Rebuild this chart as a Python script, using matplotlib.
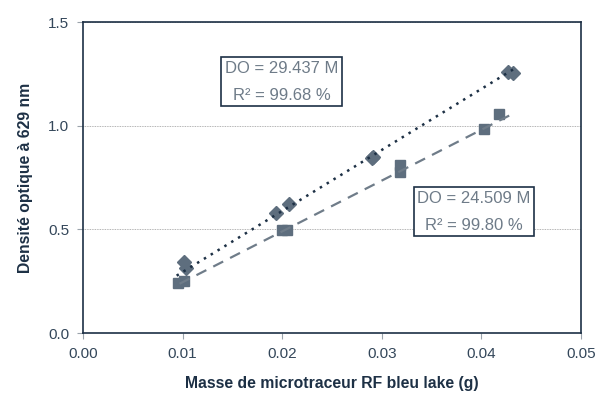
"""Calibration: optical density at 629 nm vs mass of RF bleu lake microtracer."""
import matplotlib

matplotlib.use("Agg")
import matplotlib.pyplot as plt
import numpy as np

plt.rcParams["font.family"] = ["Liberation Sans", "DejaVu Sans"]

# series 1 (diamonds, dotted trend)
mass_a = [0.01017, 0.01030, 0.01934, 0.02070, 0.02900, 0.02910, 0.04270, 0.04320]
do_a = [0.344, 0.312, 0.577, 0.622, 0.845, 0.850, 1.260, 1.254]
slope_a = 29.437
r2_a = 99.68

# series 2 (squares, dashed trend)
mass_b = [0.00957, 0.01014, 0.02000, 0.02045, 0.03183, 0.03183, 0.04030, 0.04177]
do_b = [0.243, 0.251, 0.495, 0.497, 0.810, 0.775, 0.983, 1.055]
slope_b = 24.509
r2_b = 99.80

trend_a_x = [0.0094, 0.0433]
trend_b_x = [0.0097, 0.0434]

MARKER = "#5e6e7e"
DARK = "#1d3045"
DASH = "#6f7c89"
TEXT = "#6e7b88"
TICK = "#34475a"

fig = plt.figure(figsize=(5.98, 3.96), dpi=100)
ax = fig.add_axes([0.1388, 0.159, 0.8328, 0.7854])

ax.plot(mass_a, do_a, "D", color=MARKER, markersize=6.8, zorder=3)
ax.plot(mass_b, do_b, "s", color=MARKER, markersize=6.8, zorder=3)

xa = np.array(trend_a_x)
xb = np.array(trend_b_x)
ax.plot(xa, slope_a * xa, linestyle=(0, (1, 2.2)), color=DARK, linewidth=1.8, zorder=4)
ax.plot(xb, slope_b * xb, linestyle=(0, (5, 3.5)), color=DASH, linewidth=1.6, zorder=4)

box = dict(boxstyle="square,pad=0.22", facecolor="white", edgecolor=DARK, linewidth=1.2)
ax.text(0.01993, 1.213, f"DO = {slope_a:.3f} M\nR² = {r2_a:.2f} %", ha="center", va="center",
        fontsize=12, color=TEXT, linespacing=2.0, bbox=box, zorder=5)
ax.text(0.03926, 0.586, f"DO = {slope_b:.3f} M\nR² = {r2_b:.2f} %", ha="center", va="center",
        fontsize=12, color=TEXT, linespacing=2.0, bbox=box, zorder=5)

ax.set_xlim(0, 0.05)
ax.set_ylim(0, 1.5)
ax.set_xticks([0.0, 0.01, 0.02, 0.03, 0.04, 0.05])
ax.set_xticklabels(["0.00", "0.01", "0.02", "0.03", "0.04", "0.05"])
ax.set_yticks([0.0, 0.5, 1.0, 1.5])
ax.set_yticklabels(["0.0", "0.5", "1.0", "1.5"])
ax.yaxis.grid(True, linestyle=(0, (1, 1)), color="#9a9a9a", linewidth=0.6)
ax.set_axisbelow(True)

ax.tick_params(direction="out", length=4, width=0.8, color="#9aa3ab",
               labelsize=11, labelcolor=TICK, pad=6)
for spine in ax.spines.values():
    spine.set_color(DARK)
    spine.set_linewidth(1.2)

ax.set_xlabel("Masse de microtraceur RF bleu lake (g)", fontsize=11.3, fontweight="bold",
              color=DARK, labelpad=11)
ax.set_ylabel("Densité optique à 629 nm", fontsize=11.3, fontweight="bold",
              color=DARK, labelpad=11)

fig.savefig("out.png", dpi=100)
